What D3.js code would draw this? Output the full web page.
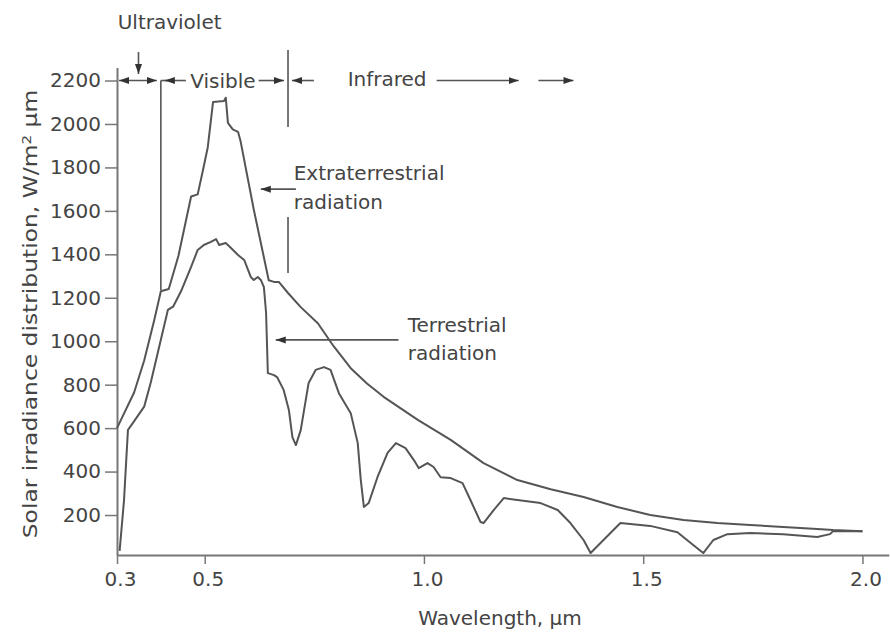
<!DOCTYPE html>
<html><head><meta charset="utf-8">
<script src="https://cdn.jsdelivr.net/npm/d3@7"></script>
<style>body{margin:0;background:#fff} svg{display:block}</style>
</head><body><svg id="c" width="890" height="635"></svg>
<script>
// ---- data (wavelength µm, irradiance W/m² µm) ----
const extraterrestrial = [
  [0.300,600],[0.339,764],[0.362,911],[0.385,1098],[0.400,1230],[0.418,1240],
  [0.440,1392],[0.469,1666],[0.484,1676],[0.496,1787],[0.507,1893],[0.519,2101],
  [0.544,2106],[0.548,2121],[0.553,2005],[0.564,1975],[0.576,1964],[0.582,1919],
  [0.612,1605],[0.646,1281],[0.658,1273],[0.669,1273],[0.690,1222],[0.719,1157],
  [0.758,1083],[0.794,977],[0.833,876],[0.870,805],[0.908,744],[0.986,638],
  [1.061,546],[1.136,439],[1.213,361],[1.289,319],[1.364,283],[1.441,237],
  [1.516,200],[1.592,177],[1.669,163],[1.744,154],[1.819,145],[1.897,136],
  [1.933,131],[2.000,125]
];
const terrestrial = [
  [0.306,35],[0.316,268],[0.321,450],[0.325,592],[0.336,623],[0.362,699],
  [0.377,810],[0.416,1144],[0.428,1159],[0.446,1230],[0.469,1342],[0.484,1420],
  [0.498,1443],[0.514,1457],[0.526,1470],[0.533,1443],[0.548,1452],[0.560,1429],
  [0.576,1397],[0.590,1374],[0.605,1296],[0.612,1282],[0.621,1296],[0.628,1282],
  [0.635,1249],[0.640,1130],[0.644,853],[0.658,844],[0.665,835],[0.680,776],
  [0.692,683],[0.700,559],[0.708,522],[0.719,591],[0.737,808],[0.753,868],
  [0.772,881],[0.787,868],[0.806,761],[0.833,669],[0.849,531],[0.856,361],
  [0.863,237],[0.874,255],[0.894,374],[0.917,486],[0.936,531],[0.958,508],
  [0.977,453],[0.988,416],[1.008,439],[1.022,421],[1.038,374],[1.061,370],
  [1.088,347],[1.106,269],[1.129,168],[1.136,163],[1.159,223],[1.182,278],
  [1.213,269],[1.266,255],[1.305,223],[1.334,163],[1.364,85],[1.380,25],
  [1.448,163],[1.516,150],[1.578,121],[1.614,62],[1.637,25],[1.660,85],
  [1.692,112],[1.744,117],[1.819,112],[1.897,99],[1.926,112],[1.933,126],
  [2.000,125]
];
const wavelengthTicks = [0.3, 0.5, 1.0, 1.5, 2.0];
const irradianceTicks = [200,400,600,800,1000,1200,1400,1600,1800,2000,2200];
const xTitle = "Wavelength, µm";
const yTitleMain = "Solar irradiance distribution, W/m";
const yTitleSup = "2";
const yTitleEnd = " µm";
const bandLabels = ["Ultraviolet", "Visible", "Infrared"];
const bandLimits = [0.3, 0.4, 0.69];   // band boundaries (µm)
const curveLabels = [["Extraterrestrial","radiation"],["Terrestrial","radiation"]];

// ---- rendering ----
const FONT = "'DejaVu Sans', sans-serif";
const FS = 20;
const TXT = "#444", LINE = "#555", AXIS = "#777";
const svg = d3.select("#c");
const x = d3.scaleLinear().domain([0.3, 2.06]).range([117, 117 + 1.76 * 438.5]);
const y = d3.scaleLinear().domain([16, 2260]).range([555, 555 - 2244 * 0.21725]);

const defs = svg.append("defs");
defs.append("marker").attr("id","ah").attr("viewBox","0 -4 10 8")
  .attr("refX",10).attr("refY",0).attr("markerUnits","userSpaceOnUse")
  .attr("markerWidth",10).attr("markerHeight",8).attr("orient","auto-start-reverse")
  .append("path").attr("d","M0,-3.5L10,0L0,3.5Z").attr("fill","#333");

// axes
const gx = svg.append("g").attr("transform", `translate(0,${y(16)})`)
  .call(d3.axisBottom(x).tickValues(wavelengthTicks).tickFormat(d3.format(".1f"))
    .tickSize(9).tickSizeOuter(0).tickPadding(8));
const gy = svg.append("g").attr("transform", `translate(${x(0.3)},0)`)
  .call(d3.axisLeft(y).tickValues(irradianceTicks).tickFormat(d3.format("d"))
    .tickSize(12).tickSizeOuter(0).tickPadding(4));
[gx, gy].forEach(g => {
  g.attr("font-family", FONT).attr("font-size", FS);
  g.select(".domain").attr("stroke", AXIS).attr("stroke-width", 2);
  g.selectAll(".tick line").attr("stroke", AXIS).attr("stroke-width", 1.5);
  g.selectAll(".tick text").attr("fill", TXT);
});
gx.selectAll(".tick text").attr("dx", 3);

// curves
const line = d3.line().x(d => x(d[0])).y(d => y(d[1]));
[extraterrestrial, terrestrial].forEach(data => {
  svg.append("path").datum(data).attr("d", line).attr("fill","none")
    .attr("stroke", LINE).attr("stroke-width", 2).attr("stroke-linejoin","round");
});

// helpers
function seg(x1, y1, x2, y2, mStart, mEnd) {
  const p = svg.append("line").attr("x1",x1).attr("y1",y1).attr("x2",x2).attr("y2",y2)
    .attr("stroke", LINE).attr("stroke-width", 1.6);
  if (mStart) p.attr("marker-start","url(#ah)");
  if (mEnd) p.attr("marker-end","url(#ah)");
}
function label(tx, ty, str, anchor) {
  svg.append("text").attr("x", tx).attr("y", ty).attr("dy","0.35em")
    .attr("text-anchor", anchor || "start").attr("font-family", FONT)
    .attr("font-size", FS).attr("fill", TXT).text(str);
}

// band annotations (row at 2200)
const rowY = y(2200);
const xUV0 = x(bandLimits[0]), xUV1 = x(bandLimits[1]), xVI = x(bandLimits[2]);
seg(xUV0 + 2, rowY, xUV1 - 4, rowY, true, true);
seg(xUV1, rowY, x(0.457), rowY, false, false);
seg(xUV1 + 4, rowY, xUV1 + 10, rowY, true, false);
seg(x(0.623), rowY, xVI - 4, rowY, false, true);
seg(xVI + 4, rowY, x(0.749), rowY, true, false);
seg(x(1.029), rowY, x(1.216), rowY, false, true);
seg(x(1.261), rowY, x(1.341), rowY, false, true);
// down arrow to UV
seg(x(0.349), y(2331), x(0.349), y(2230), false, true);
// boundary lines
seg(xUV1, rowY, xUV1, y(1236), false, false);
seg(xVI, y(2341), xVI, y(1986), false, false);
seg(xVI, y(1572), xVI, y(1314), false, false);

label(x(0.42), y(2469), bandLabels[0], "middle");
label(x(0.5415), rowY, bandLabels[1], "middle");
label(x(0.826), y(2209), bandLabels[2], "start");

// curve annotations
seg(x(0.708), y(1700), x(0.628), y(1700), false, true);
label(x(0.703), y(1774), curveLabels[0][0]);
label(x(0.703), y(1641), curveLabels[0][1]);
seg(x(0.942), y(1006), x(0.662), y(1006), false, true);
label(x(0.963), y(1075), curveLabels[1][0]);
label(x(0.963), y(946), curveLabels[1][1]);

// axis titles
svg.append("text").attr("x", 500).attr("y", 618).attr("dy","0.35em")
  .attr("text-anchor","middle").attr("font-family", FONT).attr("font-size", FS)
  .attr("fill", TXT).text(xTitle);
const yt = svg.append("text").attr("transform","translate(30,314) rotate(-90) scale(1.17,1)")
  .attr("dy","0.35em").attr("text-anchor","middle").attr("font-family", FONT)
  .attr("font-size", FS).attr("fill", TXT);
yt.append("tspan").text(yTitleMain);
yt.append("tspan").attr("font-size", 13).attr("dy", "-0.5em").text(yTitleSup);
yt.append("tspan").attr("dy", "0.3em").text(yTitleEnd);
</script></body></html>
